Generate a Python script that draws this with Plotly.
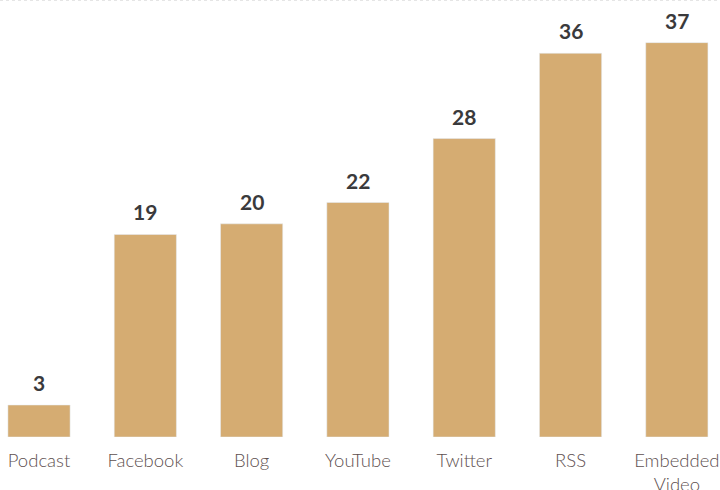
import plotly.graph_objects as go

categories = ["Podcast", "Facebook", "Blog", "YouTube", "Twitter", "RSS", "Embedded Video"]
tick_labels = ["Podcast", "Facebook", "Blog", "YouTube", "Twitter", "RSS", "Embedded<br>Video"]
values = [3, 19, 20, 22, 28, 36, 37]

bar_color = "#D5AC72"

fig = go.Figure()
fig.add_trace(go.Bar(
    x=categories, y=values, marker_color=bar_color, width=0.585,
    hoverinfo="skip",
))
for c, v in zip(categories, values):
    fig.add_annotation(
        x=c, y=v, text=f"<b>{v}</b>", showarrow=False, yanchor="bottom", yshift=8,
        font=dict(family="Lato", size=21, color="#3a3a3c"),
    )

fig.add_shape(type="line", xref="paper", yref="paper", x0=0, x1=1, y0=1, y1=1,
              line=dict(color="#cccccc", width=1, dash="dot"))

fig.update_layout(
    width=720, height=490,
    margin=dict(l=0, r=0, t=0, b=53),
    plot_bgcolor="white", paper_bgcolor="white",
    showlegend=False,
    xaxis=dict(
        range=[-0.367, 6.406], tickmode="array", tickvals=categories, ticktext=tick_labels,
        showgrid=False, zeroline=False, showline=False, ticks="",
        automargin=False, ticklabelstandoff=10,
        tickfont=dict(family="Lato", size=18.5, color="#5e5050", weight=300),
    ),
    yaxis=dict(range=[0, 41.0], visible=False, showgrid=False, zeroline=False),
)
fig.write_html("out.html")
